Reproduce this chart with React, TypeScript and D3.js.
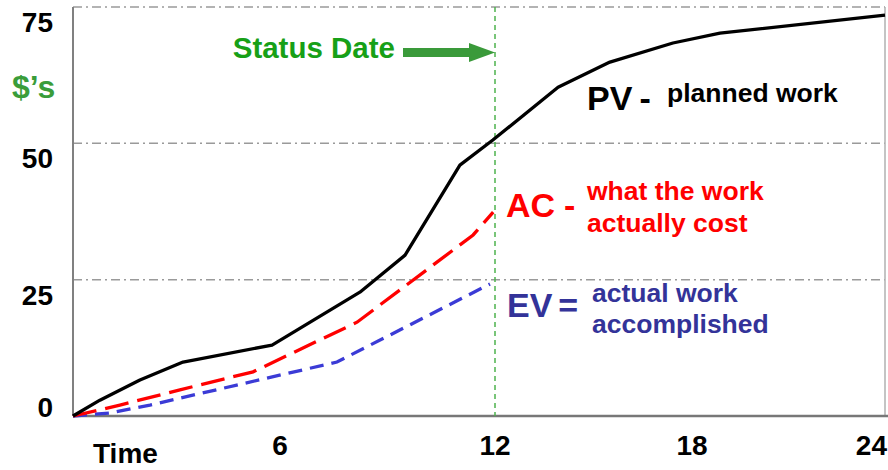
import React from "react";
import * as d3 from "d3";

// ---- data ----
const xTicks = [6, 12, 18, 24];
const yTicks = [0, 25, 50, 75];
const statusDate = 12;

const pvTime = [0, 0.78, 1.94, 3.19, 5.77, 8.23, 9.49, 11.02, 11.94, 13.92, 15.5, 17.42, 18.87, 24];
const pvValue = [0, 2.9, 6.6, 9.9, 13.0, 22.7, 29.5, 46.0, 50.6, 60.3, 64.9, 68.4, 70.2, 73.5];

const acTime = [0, 1.36, 3.1, 5.22, 8.15, 11.39, 11.95];
const acValue = [0, 2.0, 4.8, 8.1, 17.2, 33.2, 37.4];

const evTime = [0, 1.07, 2.23, 7.59, 11.86];
const evValue = [0, 0.55, 2.0, 9.9, 24.2];

const W = 888;
const H = 470;
const FONT = "'Liberation Sans', Arial, sans-serif";

export default function App() {
  // time axis labels were laid out slightly unevenly in the original
  const x = d3.scaleLinear().domain([0, 6, 12, 18, 24]).range([73, 280, 495, 692, 885]);
  const y = d3.scaleLinear().domain([0, 75]).range([416, 7]);

  const line = d3
    .line<[number, number]>()
    .x((d) => x(d[0]))
    .y((d) => y(d[1]));

  const pv = line(pvTime.map((t, i) => [t, pvValue[i]]) as [number, number][]) || "";
  const ac = line(acTime.map((t, i) => [t, acValue[i]]) as [number, number][]) || "";
  const ev = line(evTime.map((t, i) => [t, evValue[i]]) as [number, number][]) || "";

  const x0 = x(0);
  const x1 = x(24);
  const sx = x(statusDate);

  return (
    <svg
      width={W}
      height={H}
      style={{ position: "absolute", left: 0, top: 0, background: "#fff" }}
      fontFamily={FONT}
    >
      <rect width={W} height={H} fill="#fff" />
      {/* gridlines */}
      {yTicks
        .filter((v) => v > 0)
        .map((v) => (
          <line
            key={"g" + v}
            x1={x0}
            x2={x1}
            y1={y(v)}
            y2={y(v)}
            stroke="#9a9a9a"
            strokeWidth={1.5}
            strokeDasharray="9 4 2 4"
          />
        ))}
      {/* right border */}
      <line x1={x1} x2={x1} y1={y(75)} y2={y(0)} stroke="#b0b0b0" strokeWidth={1.5} />
      {/* axes */}
      <line x1={x0} x2={x0} y1={y(75)} y2={y(0)} stroke="#808080" strokeWidth={2} />
      <line x1={x0} x2={W} y1={y(0)} y2={y(0)} stroke="#777" strokeWidth={2.5} />

      {/* status date line */}
      <line
        x1={sx}
        x2={sx}
        y1={y(75)}
        y2={y(0)}
        stroke="#4db34d"
        strokeWidth={1.5}
        strokeDasharray="5 4"
      />

      {/* series */}
      <path d={ev} fill="none" stroke="#3b3bd6" strokeWidth={3.3} strokeDasharray="14 8" />
      <path d={ac} fill="none" stroke="#ff0000" strokeWidth={3.3} strokeDasharray="24 9" />
      <path d={pv} fill="none" stroke="#000" strokeWidth={3.3} strokeLinejoin="round" />

      {/* y tick labels */}
      {yTicks.map((v) => (
        <text
          key={"y" + v}
          x={53}
          y={Math.min(y(v) + 25, y(0) + 1)}
          textAnchor="end"
          fontSize={28}
          fontWeight="bold"
          fill="#000"
        >
          {v}
        </text>
      ))}
      {/* x tick labels */}
      {xTicks.map((v, i) => (
        <text
          key={"x" + v}
          x={i === xTicks.length - 1 ? x(v) + 2 : x(v)}
          y={455}
          textAnchor={i === xTicks.length - 1 ? "end" : "middle"}
          fontSize={28}
          fontWeight="bold"
          fill="#000"
        >
          {v}
        </text>
      ))}
      <text x={93} y={463} fontSize={28} fontWeight="bold" fill="#000">
        Time
      </text>
      <text x={12} y={98} fontSize={32} fontWeight="bold" fill="#3a9d3a">
        $’s
      </text>

      {/* status date annotation */}
      <text x={sx - 100} y={58} textAnchor="end" fontSize={29.5} fontWeight="bold" fill="#17a017">
        Status Date
      </text>
      <rect x={sx - 92} y={48} width={67} height={9} fill="#3a9a3a" />
      <polygon
        points={`${sx - 26},43 ${sx},52.5 ${sx - 26},62`}
        fill="#3a9a3a"
      />

      {/* series labels */}
      <text x={587} y={110} fontWeight="bold" fill="#000">
        <tspan fontSize={34}>PV</tspan>
        <tspan fontSize={34} dx={9}>-</tspan>
      </text>
      <text x={667} y={102} fontSize={26.5} fontWeight="bold" fill="#000">
        planned work
      </text>

      <text x={506} y={217} fontWeight="bold" fill="#ff0000">
        <tspan fontSize={34}>AC</tspan>
        <tspan fontSize={34} dx={9}>-</tspan>
      </text>
      <text x={587} y={200} fontSize={26.5} fontWeight="bold" fill="#ff0000">
        what the work
      </text>
      <text x={587} y={232} fontSize={26.5} fontWeight="bold" fill="#ff0000">
        actually cost
      </text>

      <text x={507} y={317} fontWeight="bold" fill="#333399">
        <tspan fontSize={34}>EV</tspan>
        <tspan fontSize={34} dx={6}>=</tspan>
      </text>
      <text x={592} y={302} fontSize={26.5} fontWeight="bold" fill="#333399">
        actual work
      </text>
      <text x={592} y={333} fontSize={26.5} fontWeight="bold" fill="#333399">
        accomplished
      </text>
    </svg>
  );
}
